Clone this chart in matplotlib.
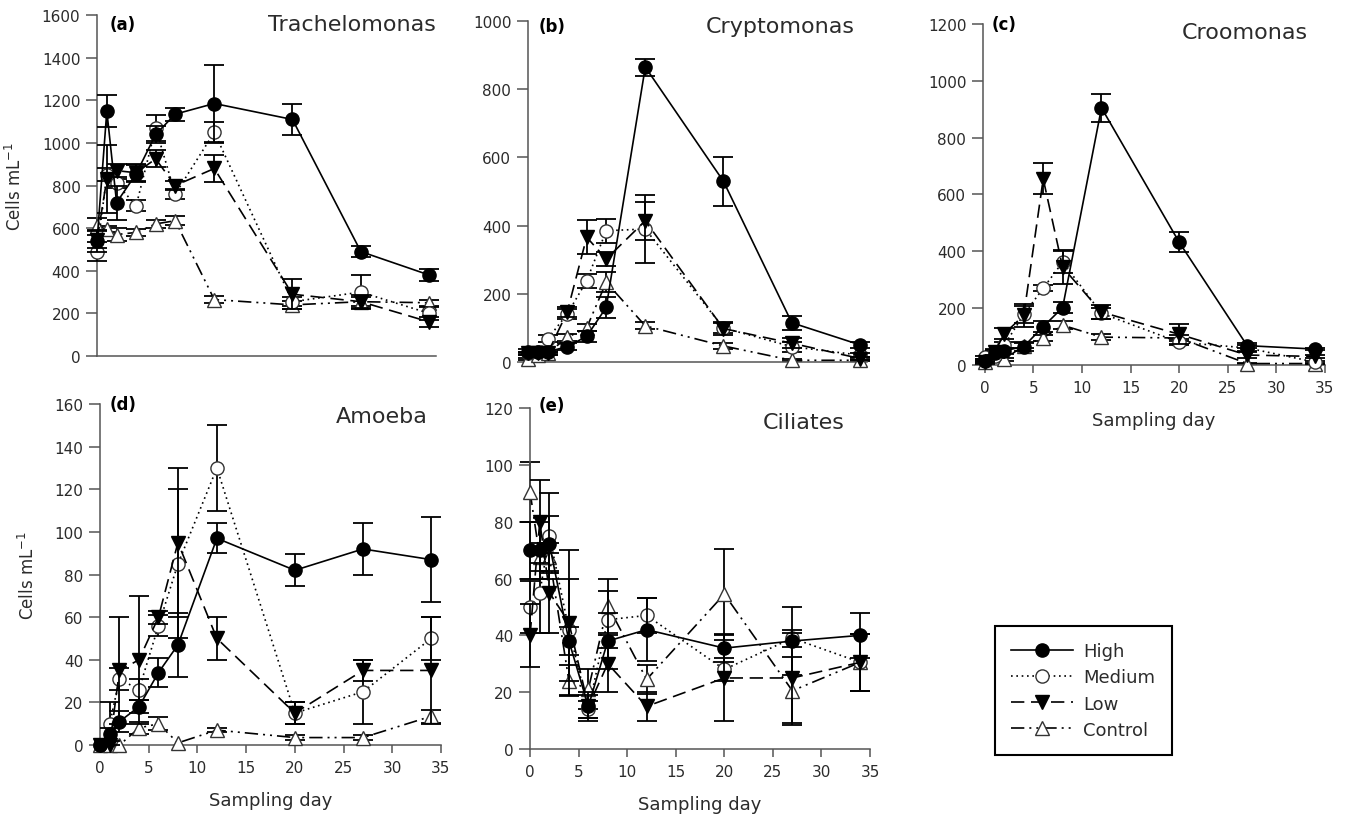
import matplotlib
matplotlib.use("Agg")
import matplotlib.pyplot as plt
from matplotlib.lines import Line2D
import numpy as np

plt.rcParams['font.family'] = ['DejaVu Sans']
TXT = '#2b2b2b'
AXC = '#555555'

days = [0, 1, 2, 4, 6, 8, 12, 20, 27, 34]
series_names = ["High", "Medium", "Low", "Control"]

# (a) Trachelomonas
tra_high = [540, 1150, 720, 855, 1040, 1135, 1185, 1110, 490, 380]
tra_high_err = [50, 75, 80, 40, 40, 30, 180, 75, 25, 30]
tra_medium = [490, 850, 810, 705, 1070, 760, 1050, 255, 300, 200]
tra_medium_err = [45, 30, 20, 25, 60, 25, 50, 20, 80, 30]
tra_low = [545, 830, 870, 860, 925, 800, 880, 290, 255, 160]
tra_low_err = [40, 160, 30, 40, 40, 20, 65, 70, 30, 25]
tra_control = [610, 595, 570, 580, 620, 635, 265, 240, 255, 250]
tra_control_err = [40, 15, 30, 15, 20, 20, 15, 20, 20, 15]

# (b) Cryptomonas
cry_high = [30, 30, 30, 45, 75, 160, 865, 530, 115, 50]
cry_high_err = [8, 5, 5, 10, 15, 30, 25, 72, 20, 10]
cry_medium = [25, 30, 68, 140, 238, 385, 390, 100, 45, 20]
cry_medium_err = [5, 5, 10, 15, 20, 35, 100, 15, 15, 5]
cry_low = [25, 25, 25, 146, 366, 302, 414, 98, 55, 10]
cry_low_err = [5, 5, 5, 15, 50, 20, 55, 20, 15, 5]
cry_control = [10, 20, 25, 72, 100, 234, 106, 47, 5, 5]
cry_control_err = [3, 3, 5, 10, 10, 30, 10, 10, 3, 3]

# (c) Croomonas
cro_high = [15, 42, 50, 65, 135, 202, 905, 432, 68, 56]
cro_high_err = [5, 10, 10, 15, 20, 20, 50, 35, 10, 5]
cro_medium = [27, 30, 70, 178, 270, 362, 182, 80, 60, 10]
cro_medium_err = [5, 5, 10, 30, 10, 40, 20, 10, 10, 5]
cro_low = [10, 45, 110, 175, 655, 344, 186, 108, 35, 30]
cro_low_err = [5, 10, 20, 40, 55, 60, 25, 35, 10, 5]
cro_control = [10, 35, 20, 68, 95, 140, 98, 95, 5, 5]
cro_control_err = [3, 5, 5, 10, 10, 15, 10, 10, 3, 3]

# (d) Amoeba
amo_high = [0, 5, 11, 18, 34, 47, 97, 82, 92, 87]
amo_high_err = [0, 3, 5, 3, 7, 15, 7, 7.5, 12, 20]
amo_medium = [0, 10, 31, 26, 56, 85, 130, 15, 25, 50]
amo_medium_err = [0, 10, 5, 5, 5, 35, 20, 5, 15, 10]
amo_low = [0, 0, 35, 40, 60, 95, 50, 15, 35, 35]
amo_low_err = [0, 0, 25, 30, 3, 35, 10, 5, 5, 25]
amo_control = [0, 0, 0, 8, 10, 1, 7, 3.5, 3.5, 13.5]
amo_control_err = [0, 0, 0, 3, 3, 0, 1, 1, 1, 3]

# (e) Ciliates
cil_high = [70, 70, 72, 38, 15, 38, 42, 35.5, 38, 40]
cil_high_err = [10, 10, 10, 5, 4, 10, 11, 5, 12, 8]
cil_medium = [50, 55, 75, 42, 14, 45.5, 47, 28, 39, 30.5]
cil_medium_err = [9, 14, 15, 18, 3, 10, 6, 4, 3, 10]
cil_low = [40, 80, 55, 44.5, 15, 30, 15, 25, 25, 30.5]
cil_low_err = [11, 14.5, 14, 25.5, 5, 10, 5, 15, 16, 10]
cil_control = [90.5, 67.5, 67.5, 24, 21, 50.5, 24.5, 54.5, 20.5, 30.5]
cil_control_err = [10.5, 5, 5, 5.5, 7, 9.5, 5, 16, 12, 10]

styles = {
    "High": dict(ls='-', marker='o', mfc='black', mec='black'),
    "Medium": dict(ls=(0, (1, 2.2)), marker='o', mfc='white', mec='#333333'),
    "Low": dict(ls=(0, (8, 4)), marker='v', mfc='black', mec='black'),
    "Control": dict(ls=(0, (8, 3, 1.2, 3, 1.2, 3)), marker='^', mfc='white', mec='#333333'),
}
zorders = {"Control": 3, "Medium": 4, "Low": 5, "High": 6}
MS = 9.5

panels = [
    dict(rect=[0.0721, 0.5688, 0.2519, 0.4118], letter='(a)', name='Trachelomonas',
         ymax=1600, ystep=200, xlim=(0, 34.7), xt=False, ylab=True,
         data={"High": (tra_high, tra_high_err), "Medium": (tra_medium, tra_medium_err),
               "Low": (tra_low, tra_low_err), "Control": (tra_control, tra_control_err)},
         tpos=(1.0, 0.974), lpos=(0.038, 0.974)),
    dict(rect=[0.3923, 0.5616, 0.2519, 0.4118], letter='(b)', name='Cryptomonas',
         ymax=1000, ystep=200, xlim=(0, 34.7), xt=False, ylab=False,
         data={"High": (cry_high, cry_high_err), "Medium": (cry_medium, cry_medium_err),
               "Low": (cry_low, cry_low_err), "Control": (cry_control, cry_control_err)},
         tpos=(0.965, 0.985), lpos=(0.03, 0.985)),
    dict(rect=[0.7303, 0.558, 0.254, 0.4118], letter='(c)', name='Croomonas',
         ymax=1200, ystep=200, xlim=(-0.2, 35), xt=True, ylab=False,
         data={"High": (cro_high, cro_high_err), "Medium": (cro_medium, cro_medium_err),
               "Low": (cro_low, cro_low_err), "Control": (cro_control, cro_control_err)},
         tpos=(0.95, 0.977), lpos=(0.026, 1.0)),
    dict(rect=[0.0743, 0.0990, 0.2533, 0.4118], letter='(d)', name='Amoeba',
         ymax=160, ystep=20, xlim=(0, 35), xt=True, ylab=True,
         data={"High": (amo_high, amo_high_err), "Medium": (amo_medium, amo_medium_err),
               "Low": (amo_low, amo_low_err), "Control": (amo_control, amo_control_err)},
         tpos=(0.962, 0.965), lpos=(0.029, 1.0)),
    dict(rect=[0.3938, 0.0942, 0.2526, 0.4118], letter='(e)', name='Ciliates',
         ymax=120, ystep=20, xlim=(0, 35), xt=True, ylab=False,
         data={"High": (cil_high, cil_high_err), "Medium": (cil_medium, cil_medium_err),
               "Low": (cil_low, cil_low_err), "Control": (cil_control, cil_control_err)},
         tpos=(0.926, 0.959), lpos=(0.024, 1.01)),
]

fig = plt.figure(figsize=(13.46, 8.28), dpi=100)

for p in panels:
    ax = fig.add_axes(p['rect'])
    for name in ["Control", "Medium", "Low", "High"]:
        y, e = p['data'][name]
        x = np.array(days, dtype=float)
        y = np.array(y, dtype=float)
        e = np.array(e, dtype=float)
        m = e > 0
        ax.errorbar(x[m], y[m], yerr=e[m], fmt='none', ecolor='black', elinewidth=1.3,
                    capsize=7, capthick=1.3, zorder=zorders[name] - 0.5, clip_on=False)
        st = styles[name]
        ax.plot(x, y, color='black', lw=1.2, ls=st['ls'], marker=st['marker'],
                ms=MS, mfc=st['mfc'], mec=st['mec'], mew=1.0,
                zorder=zorders[name], clip_on=False)
    ax.set_ylim(0, p['ymax'])
    ax.set_yticks(np.arange(0, p['ymax'] + 1, p['ystep']))
    ax.set_xlim(*p['xlim'])
    for s in ['top', 'right']:
        ax.spines[s].set_visible(False)
    for s in ['left', 'bottom']:
        ax.spines[s].set_color(AXC)
        ax.spines[s].set_linewidth(1.1)
    ax.tick_params(axis='y', direction='out', length=8, width=1.1, color=AXC,
                   labelsize=11, labelcolor=TXT, pad=4)
    if p['xt']:
        ax.set_xticks(np.arange(0, 36, 5))
        ax.tick_params(axis='x', direction='out', length=6, width=1.1, color=AXC,
                       labelsize=11, labelcolor=TXT, pad=5)
        ax.set_xlabel('Sampling day', fontsize=13, color=TXT, labelpad=11)
    else:
        ax.set_xticks([])
    if p['ylab']:
        ax.set_ylabel('Cells mL$^{-1}$', fontsize=12, color=TXT, labelpad=12)
    ax.text(p['tpos'][0], p['tpos'][1], p['name'], transform=ax.transAxes,
            ha='right', va='center', fontsize=16, color=TXT)
    ax.text(p['lpos'][0], p['lpos'][1], p['letter'], transform=ax.transAxes,
            ha='left', va='center', fontsize=12, fontweight='bold', color='black')

handles = []
for name in series_names:
    st = styles[name]
    handles.append(Line2D([], [], color='black', lw=1.2, ls=st['ls'], marker=st['marker'],
                          ms=MS, mfc=st['mfc'], mec=st['mec'], mew=1.0))
leg = fig.legend(handles, series_names, loc='upper left',
                 bbox_to_anchor=(986 / 1346, 1 - 618 / 828), fontsize=13,
                 frameon=True, fancybox=False, edgecolor='black', framealpha=1,
                 handlelength=3.4, handletextpad=0.6, labelspacing=0.45, borderpad=0.9)
leg.get_frame().set_linewidth(1.5)
for t in leg.get_texts():
    t.set_color(TXT)

fig.savefig('out.png', dpi=100)
